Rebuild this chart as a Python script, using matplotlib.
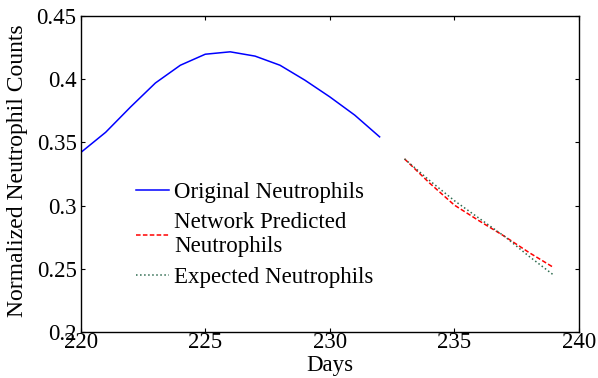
import numpy as np
import matplotlib
matplotlib.use('Agg')
import matplotlib.pyplot as plt

plt.rcParams['font.family'] = ['Liberation Serif', 'DejaVu Serif']
plt.rcParams['mathtext.fontset'] = 'stix'

# data
days_orig = [220, 221, 222, 223, 224, 225, 226, 227, 228, 229, 230, 231, 232]
orig = [0.342, 0.358, 0.378, 0.397, 0.411, 0.4197, 0.4216, 0.4182, 0.411, 0.3992, 0.386, 0.3716, 0.3544]

days_pred = [233, 234, 235, 236, 237, 238, 239]
predicted = [0.337, 0.318, 0.3005, 0.288, 0.276, 0.263, 0.251]
expected = [0.337, 0.320, 0.304, 0.290, 0.276, 0.260, 0.245]

fs = 16.5

fig = plt.figure(figsize=(5.98, 3.78), dpi=100)
ax = fig.add_axes([0.135, 0.121, 0.833, 0.837])

ax.plot(days_orig, orig, color='blue', lw=1.1, label='Original Neutrophils')
ax.plot(days_pred, predicted, color='red', lw=1.1, ls='--', dashes=(3, 1.5),
        label='Network Predicted\nNeutrophils')
ax.plot(days_pred, expected, color='#2e6b4f', lw=1.1, ls=':',
        label='Expected Neutrophils')

ax.set_xlim(220, 240)
ax.set_ylim(0.2, 0.45)
ax.set_xticks([220, 225, 230, 235, 240])
ax.set_yticks([0.2, 0.25, 0.3, 0.35, 0.4, 0.45])
ax.set_yticklabels(['0.2', '0.25', '0.3', '0.35', '0.4', '0.45'])

ax.tick_params(direction='in', length=3, width=0.8, top=True, right=True,
               labelsize=fs, colors='black')
ax.tick_params(axis='x', pad=0)
ax.tick_params(axis='y', pad=3)
for s in ax.spines.values():
    s.set_linewidth(1.0)

ax.set_xlabel('Days', fontsize=fs, labelpad=1)
ax.set_ylabel('Normalized Neutrophil Counts', fontsize=17)
# y label centred about 18 px from the left edge
ax.yaxis.set_label_coords(-0.105, 0.51)

ax.legend(loc='upper left', bbox_to_anchor=(136 / 598, 1 - 182 / 378),
          bbox_transform=fig.transFigure, frameon=False, fontsize=fs,
          borderpad=0, borderaxespad=0, handlelength=1.45, handletextpad=0.2,
          labelspacing=0.4)

fig.savefig('out.png', dpi=100)
